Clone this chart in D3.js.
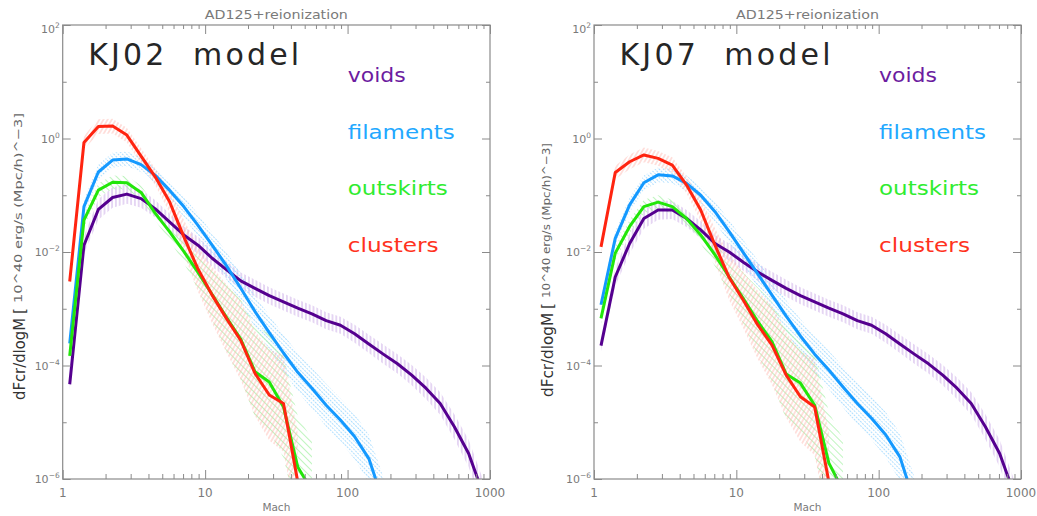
<!DOCTYPE html>
<html><head><meta charset="utf-8">
<script src="https://cdn.jsdelivr.net/npm/d3@7"></script>
<style>body{margin:0;background:#fff;} svg{display:block;} .pre{white-space:pre;}</style>
</head><body>
<svg id="c" width="1037" height="516"></svg>
<script>
// ---------------- data ----------------
// Mach-number bin centres (log10 M = 0.05, 0.15, ...)
const machBins = [1.12,1.41,1.78,2.24,2.82,3.55,4.47,5.62,7.08,8.91,11.2,14.1,17.8,22.4,28.2,35.5,44.7,56.2,70.8,89.1,112,141,178,224,282,355,447,562,708,891];

const seriesNames = ["voids","filaments","outskirts","clusters"];
const panelTitles = ["KJ02  model","KJ07  model"];
const runTitle = "AD125+reionization";
const xTickValues = [1,10,100,1000];
const yTickExponents = [2,0,-2,-4,-6];

// log10 of dFcr/dlogM, KJ02 model
const kj02VoidsLog = [-4.33,-1.88,-1.25,-1.04,-0.98,-1.06,-1.24,-1.47,-1.70,-1.88,-2.11,-2.31,-2.51,-2.64,-2.77,-2.88,-2.99,-3.09,-3.21,-3.29,-3.44,-3.62,-3.80,-3.97,-4.17,-4.40,-4.67,-5.08,-5.55,-6.25];
const kj02FilamentsLog = [-3.61,-1.20,-0.59,-0.38,-0.36,-0.46,-0.65,-0.91,-1.20,-1.53,-1.88,-2.24,-2.64,-3.05,-3.42,-3.78,-4.12,-4.40,-4.70,-4.96,-5.25,-5.64,-6.40];
const kj02OutskirtsLog = [-3.83,-1.44,-0.91,-0.77,-0.78,-0.95,-1.32,-1.64,-1.99,-2.36,-2.75,-3.15,-3.54,-4.11,-4.29,-4.73,-5.79,-6.20];
const kj02ClustersLog = [-2.52,-0.07,0.21,0.22,0.06,-0.31,-0.68,-1.11,-1.73,-2.30,-2.76,-3.17,-3.56,-4.14,-4.52,-4.67,-6.05];

// log10 of dFcr/dlogM, KJ07 model
const kj07VoidsLog = [-3.65,-2.44,-1.85,-1.41,-1.26,-1.26,-1.41,-1.61,-1.85,-2.00,-2.18,-2.35,-2.50,-2.64,-2.77,-2.88,-2.99,-3.09,-3.21,-3.29,-3.44,-3.62,-3.80,-3.97,-4.17,-4.40,-4.67,-5.08,-5.55,-6.25];
const kj07FilamentsLog = [-2.93,-1.76,-1.17,-0.78,-0.64,-0.66,-0.79,-1.00,-1.29,-1.64,-2.01,-2.38,-2.76,-3.13,-3.48,-3.80,-4.08,-4.38,-4.67,-4.93,-5.22,-5.61,-6.40];
const kj07OutskirtsLog = [-3.17,-2.02,-1.55,-1.20,-1.12,-1.20,-1.41,-1.70,-2.05,-2.44,-2.82,-3.22,-3.58,-4.15,-4.31,-4.70,-5.72,-6.20];
const kj07ClustersLog = [-1.91,-0.60,-0.41,-0.29,-0.35,-0.47,-0.82,-1.26,-1.88,-2.45,-2.85,-3.28,-3.64,-4.17,-4.55,-4.73,-6.05];

// half-width of the hatched scatter band (dex)
const voidsSpread = [0.10,0.16,0.18,0.18,0.17,0.16,0.15,0.15,0.15,0.15,0.15,0.15,0.15,0.15,0.15,0.15,0.15,0.15,0.15,0.15,0.16,0.16,0.17,0.17,0.18,0.19,0.20,0.22,0.24,0.25];
const filamentsSpread = [0.10,0.12,0.13,0.13,0.13,0.13,0.14,0.16,0.18,0.20,0.22,0.24,0.26,0.28,0.30,0.32,0.34,0.36,0.38,0.38,0.40,0.42,0.44];
const outskirtsSpread = [0.10,0.12,0.12,0.12,0.12,0.12,0.13,0.15,0.20,0.30,0.45,0.60,0.70,0.80,0.85,0.90,0.90,0.90];
const clustersSpread = [0.10,0.12,0.13,0.13,0.13,0.14,0.15,0.20,0.30,0.40,0.50,0.60,0.70,0.75,0.80,0.85,0.85];

// ---------------- styles ----------------
const lineColor = {voids:"#55008f", filaments:"#1499ff", outskirts:"#22e60a", clusters:"#ff2410"};
const labelColor = {voids:"#6c1ca0", filaments:"#22a8ff", outskirts:"#30ec30", clusters:"#ff3220"};
const FONT = "DejaVu Sans, Liberation Sans, sans-serif";
const AXIS = "#8a8a8a";

const panels = [
  {x0:62.7, x1:490, title:panelTitles[0],
   data:{voids:kj02VoidsLog, filaments:kj02FilamentsLog, outskirts:kj02OutskirtsLog, clusters:kj02ClustersLog},
   ylab:{bx:25, y:400, len:82, bracketY:314, sx:22, sy:303, slen:190}},
  {x0:594, x1:1021, title:panelTitles[1],
   data:{voids:kj07VoidsLog, filaments:kj07FilamentsLog, outskirts:kj07OutskirtsLog, clusters:kj07ClustersLog},
   ylab:{bx:553, y:397, len:84, bracketY:309, sx:550, sy:298, slen:155}}
];
const spreads = {voids:voidsSpread, filaments:filamentsSpread, outskirts:outskirtsSpread, clusters:clustersSpread};

const svg = d3.select("#c");
const defs = svg.append("defs");

function hatch(id, color, spacing, angle, width, dash, h){
  const p = defs.append("pattern").attr("id", id).attr("patternUnits","userSpaceOnUse")
    .attr("width", spacing).attr("height", h).attr("patternTransform", `rotate(${angle})`);
  p.append("line").attr("x1", spacing/2).attr("x2", spacing/2).attr("y1", 0).attr("y2", h)
    .attr("stroke", color).attr("stroke-width", width)
    .attr("stroke-dasharray", dash || null);
}
hatch("h-voids", "#cdaee8", 3.8, 0, 1, null, 10);
hatch("h-filaments", "#a6dbff", 3.0, -45, 0.9, "2 1", 9);
hatch("h-outskirts", "#aef2ae", 5, -45, 0.8, null, 10);
hatch("h-clusters", "#ffb2aa", 3.6, 30, 0.8, null, 10);

const YTOP = 25, YBOT = 479;

panels.forEach((p, pi) => {
  const x = d3.scaleLog().domain([1, 1000]).range([p.x0, p.x1]);
  const y = d3.scaleLog().domain([1e-6, 1e2]).range([YBOT, YTOP]);
  const g = svg.append("g");

  const clipId = "clip" + pi;
  defs.append("clipPath").attr("id", clipId).append("rect")
    .attr("x", p.x0).attr("y", YTOP).attr("width", p.x1 - p.x0).attr("height", YBOT - YTOP);
  const plot = g.append("g").attr("clip-path", `url(#${clipId})`);

  // hatched bands
  seriesNames.forEach(name => {
    const vals = p.data[name], sp = spreads[name];
    const pts = vals.map((v, i) => ({m: machBins[i], v: v, w: sp[i]}));
    const area = d3.area()
      .x(d => x(d.m))
      .y0(d => y(Math.pow(10, d.v - d.w)))
      .y1(d => y(Math.pow(10, d.v + d.w)));
    plot.append("path").datum(pts).attr("d", area)
      .attr("fill", `url(#h-${name})`).attr("stroke", "none");
  });

  // lines
  seriesNames.forEach(name => {
    const vals = p.data[name];
    const pts = vals.map((v, i) => ({m: machBins[i], v: v}));
    const line = d3.line().x(d => x(d.m)).y(d => y(Math.pow(10, d.v)));
    plot.append("path").datum(pts).attr("d", line)
      .attr("fill", "none").attr("stroke", lineColor[name])
      .attr("stroke-width", 3).attr("stroke-linejoin", "round");
  });

  // frame
  g.append("rect").attr("x", p.x0).attr("y", YTOP).attr("width", p.x1 - p.x0).attr("height", YBOT - YTOP)
    .attr("fill", "none").attr("stroke", AXIS).attr("stroke-width", 1.2);

  // ticks
  const minorX = [];
  [1, 10, 100].forEach(d => { for (let k = 2; k <= 9; k++) minorX.push(d * k); });
  const minorY = [1e1, 1e-1, 1e-3, 1e-5];
  const majorY = yTickExponents.map(e => Math.pow(10, e));

  function styleAxis(sel){
    sel.select(".domain").remove();
    sel.selectAll("line").attr("stroke", AXIS).attr("stroke-width", 1);
    sel.selectAll("text").remove();
  }
  g.append("g").attr("transform", `translate(0,${YBOT})`)
    .call(d3.axisBottom(x).tickValues(xTickValues).tickSize(-9).tickSizeOuter(0)).call(styleAxis);
  g.append("g").attr("transform", `translate(0,${YBOT})`)
    .call(d3.axisBottom(x).tickValues(minorX).tickSize(-5).tickSizeOuter(0)).call(styleAxis);
  g.append("g").attr("transform", `translate(0,${YTOP})`)
    .call(d3.axisTop(x).tickValues(xTickValues).tickSize(-9).tickSizeOuter(0)).call(styleAxis);
  g.append("g").attr("transform", `translate(0,${YTOP})`)
    .call(d3.axisTop(x).tickValues(minorX).tickSize(-4).tickSizeOuter(0)).call(styleAxis);
  g.append("g").attr("transform", `translate(${p.x0},0)`)
    .call(d3.axisLeft(y).tickValues(majorY).tickSize(-8).tickSizeOuter(0)).call(styleAxis);
  g.append("g").attr("transform", `translate(${p.x0},0)`)
    .call(d3.axisLeft(y).tickValues(minorY).tickSize(-4).tickSizeOuter(0)).call(styleAxis);
  g.append("g").attr("transform", `translate(${p.x1},0)`)
    .call(d3.axisRight(y).tickValues(majorY).tickSize(-8).tickSizeOuter(0)).call(styleAxis);
  g.append("g").attr("transform", `translate(${p.x1},0)`)
    .call(d3.axisRight(y).tickValues(minorY).tickSize(-4).tickSizeOuter(0)).call(styleAxis);

  // x tick labels
  xTickValues.forEach(v => {
    g.append("text").attr("x", x(v)).attr("y", 497).attr("text-anchor", "middle")
      .attr("font-family", FONT).attr("font-size", 12).attr("fill", "#7a7a7a").text(String(v));
  });
  g.append("text").attr("x", (p.x0 + p.x1) / 2).attr("y", 511).attr("text-anchor", "middle")
    .attr("font-family", FONT).attr("font-size", 10.5).attr("fill", "#7a7a7a").text("Mach");

  // y tick labels (10^n)
  yTickExponents.forEach(e => {
    let yy = y(Math.pow(10, e)) + 4;
    if (e === 2) yy += 4;
    const t = g.append("text").attr("x", p.x0 - 3).attr("y", yy).attr("text-anchor", "end")
      .attr("font-family", FONT).attr("fill", "#7a7a7a");
    t.append("tspan").attr("font-size", 11).text("10");
    t.append("tspan").attr("font-size", 7.5).attr("dy", -5).text(e < 0 ? "\u2212" + Math.abs(e) : String(e));
  });

  // title
  g.append("text").attr("x", (p.x0 + p.x1) / 2).attr("y", 19).attr("text-anchor", "middle")
    .attr("font-family", FONT).attr("font-size", 13).attr("fill", "#7a7a7a")
    .attr("textLength", 143).attr("lengthAdjust", "spacingAndGlyphs").text(runTitle);

  // model label
  g.append("text").attr("class", "pre").attr("x", p.x0 + 25.5).attr("y", 65)
    .attr("font-family", FONT).attr("font-size", 30).attr("fill", "#262626")
    .attr("textLength", 211).attr("lengthAdjust", "spacing").text(p.title);

  // legend labels
  const legY = [82, 139, 195, 252];
  const legW = {voids:58, filaments:107, outskirts:100, clusters:91};
  seriesNames.forEach((name, i) => {
    g.append("text").attr("x", p.x0 + 285).attr("y", legY[i])
      .attr("font-family", FONT).attr("font-size", 20).attr("fill", labelColor[name])
      .attr("textLength", legW[name]).attr("lengthAdjust", "spacingAndGlyphs").text(name);
  });

  // y axis label
  const L = p.ylab;
  g.append("text").attr("transform", `translate(${L.bx},${L.y}) rotate(-90)`)
    .attr("font-family", FONT).attr("font-size", 16.5).attr("fill", "#333")
    .attr("textLength", L.len).attr("lengthAdjust", "spacingAndGlyphs").text("dFcr/dlogM");
  g.append("text").attr("transform", `translate(${L.bx},${L.bracketY}) rotate(-90)`)
    .attr("font-family", FONT).attr("font-size", 15).attr("fill", "#444").text("[");
  g.append("text").attr("transform", `translate(${L.sx},${L.sy}) rotate(-90)`)
    .attr("font-family", FONT).attr("font-size", 11).attr("fill", "#666")
    .attr("textLength", L.slen).attr("lengthAdjust", "spacingAndGlyphs").text("10^40 erg/s (Mpc/h)^\u22123]");
});
</script>
</body></html>
